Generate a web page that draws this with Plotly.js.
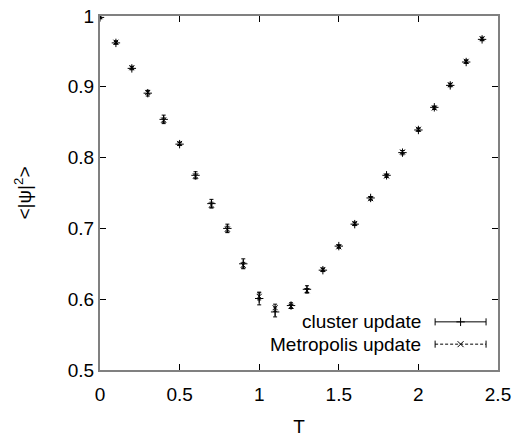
<!DOCTYPE html>
<html>
<head>
<meta charset="utf-8">
<script src="https://cdn.plot.ly/plotly-3.0.1.min.js"></script>
<style>html,body{margin:0;padding:0;background:#fff;}#chart{width:519px;height:441px;}</style>
</head>
<body>
<div id="chart"></div>
<script>
var T = [0.0,0.1,0.2,0.3,0.4,0.5,0.6,0.7,0.8,0.9,1.0,1.1,1.2,1.3,1.4,1.5,1.6,1.7,1.8,1.9,2.0,2.1,2.2,2.3,2.4];
var clusterPsi = [0.998,0.962,0.926,0.891,0.854,0.819,0.775,0.735,0.700,0.650,0.601,0.582,0.591,0.614,0.641,0.675,0.706,0.743,0.775,0.807,0.839,0.871,0.902,0.935,0.967];
var clusterErr = [0.002,0.002,0.002,0.004,0.006,0.002,0.005,0.006,0.006,0.007,0.009,0.007,0.004,0.005,0.002,0.002,0.002,0.002,0.002,0.003,0.002,0.002,0.002,0.002,0.002];
var metroPsi = [0.999,0.963,0.927,0.892,0.853,0.820,0.774,0.733,0.699,0.648,0.604,0.588,0.590,0.612,0.642,0.674,0.707,0.742,0.774,0.808,0.840,0.870,0.903,0.936,0.968];
var metroErr = [0.002,0.002,0.002,0.002,0.003,0.002,0.003,0.004,0.004,0.004,0.005,0.005,0.003,0.003,0.002,0.002,0.002,0.002,0.002,0.002,0.002,0.002,0.002,0.002,0.002];
var xTicks = [0,0.5,1,1.5,2,2.5];
var xTickLabels = ['0','0.5','1','1.5','2','2.5'];
var yTicks = [0.5,0.6,0.7,0.8,0.9,1];
var yTickLabels = ['0.5','0.6','0.7','0.8','0.9','1'];
var legendNames = ['cluster update','Metropolis update'];

var FONT = 'Liberation Sans, Arial, sans-serif';
var FS = 19;

var traces = [
  {x:T, y:clusterPsi, type:'scatter', mode:'markers', name:legendNames[0], showlegend:false,
   marker:{symbol:'cross-thin-open', size:6, color:'#000', line:{width:1, color:'#000'}},
   error_y:{type:'data', array:clusterErr, visible:true, color:'#000', thickness:1, width:2}},
  {x:T, y:metroPsi, type:'scatter', mode:'markers', name:legendNames[1], showlegend:false,
   marker:{symbol:'x-thin-open', size:5, color:'#000', line:{width:1, color:'#000'}},
   error_y:{type:'data', array:metroErr, visible:true, color:'#000', thickness:1, width:2}},
  {x:[0.906], y:[0.136], xaxis:'x2', yaxis:'y2', type:'scatter', mode:'markers', showlegend:false, hoverinfo:'skip',
   marker:{symbol:'cross-thin-open', size:6, color:'#000', line:{width:1, color:'#000'}}},
  {x:[0.906], y:[0.073], xaxis:'x2', yaxis:'y2', type:'scatter', mode:'markers', showlegend:false, hoverinfo:'skip',
   marker:{symbol:'x-thin-open', size:6, color:'#000', line:{width:1, color:'#000'}}}
];

var x0 = 0.842, x1 = 0.970, ya = 0.136, yb = 0.073, cap = 0.010;
var shapes = [
  {type:'line', xref:'paper', yref:'paper', x0:x0, x1:x1, y0:ya, y1:ya, line:{color:'#000', width:1}},
  {type:'line', xref:'paper', yref:'paper', x0:x0, x1:x0, y0:ya-cap, y1:ya+cap, line:{color:'#000', width:1}},
  {type:'line', xref:'paper', yref:'paper', x0:x1, x1:x1, y0:ya-cap, y1:ya+cap, line:{color:'#000', width:1}},
  {type:'line', xref:'paper', yref:'paper', x0:x0, x1:x1, y0:yb, y1:yb, line:{color:'#000', width:1, dash:'3px,2px'}},
  {type:'line', xref:'paper', yref:'paper', x0:x0, x1:x0, y0:yb-cap, y1:yb+cap, line:{color:'#000', width:1}},
  {type:'line', xref:'paper', yref:'paper', x0:x1, x1:x1, y0:yb-cap, y1:yb+cap, line:{color:'#000', width:1}}
];

var annotations = [
  {xref:'paper', yref:'paper', x:0.812, y:ya, xanchor:'right', yanchor:'middle', showarrow:false,
   text:legendNames[0], font:{family:FONT, size:FS, color:'#000'}},
  {xref:'paper', yref:'paper', x:0.812, y:yb, xanchor:'right', yanchor:'middle', showarrow:false,
   text:legendNames[1], font:{family:FONT, size:FS, color:'#000'}}
];

var layout = {
  width:519, height:441,
  margin:{l:100, r:21, t:16, b:71},
  paper_bgcolor:'#fff', plot_bgcolor:'#fff',
  font:{family:FONT, size:FS, color:'#000'},
  showlegend:false,
  xaxis:{range:[0,2.5], tickvals:xTicks, ticktext:xTickLabels, ticks:'inside', ticklen:6, tickcolor:'#000',
         showline:true, linecolor:'#808080', linewidth:2, mirror:'allticks', showgrid:false, zeroline:false,
         ticklabelstandoff:6, automargin:false,
         title:{text:'T', font:{family:FONT, size:FS}, standoff:16}, tickfont:{family:FONT, size:FS}},
  yaxis:{range:[0.5,1], tickvals:yTicks, ticktext:yTickLabels, ticks:'inside', ticklen:6, tickcolor:'#000',
         showline:true, linecolor:'#808080', linewidth:2, mirror:'allticks', showgrid:false, zeroline:false,
         automargin:false,
         title:{text:'<|ψ|<sup>2</sup>>', font:{family:FONT, size:FS}, standoff:31}, tickfont:{family:FONT, size:FS}},
  xaxis2:{overlaying:'x', range:[0,1], visible:false, fixedrange:true},
  yaxis2:{overlaying:'y', range:[0,1], visible:false, fixedrange:true, anchor:'x2'},
  shapes:shapes,
  annotations:annotations
};

Plotly.newPlot('chart', traces, layout, {displayModeBar:false, staticPlot:true});
</script>
</body>
</html>
